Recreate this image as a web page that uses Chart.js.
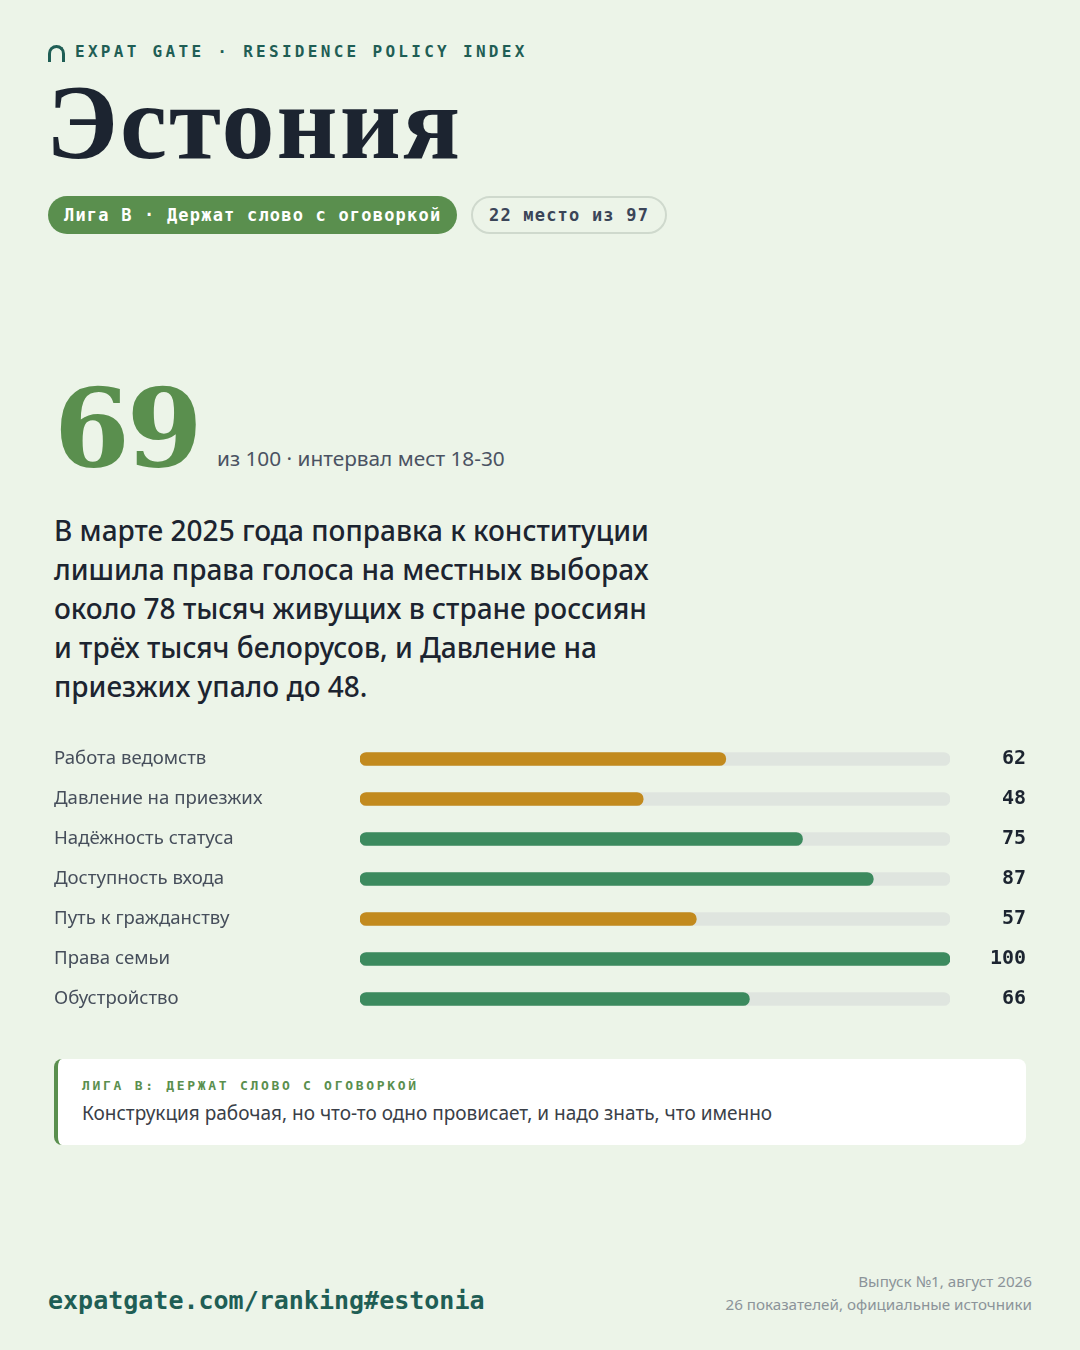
<!DOCTYPE html>
<html lang="ru">
<head>
<meta charset="utf-8">
<title>Эстония — Residence Policy Index</title>
<script src="https://cdn.jsdelivr.net/npm/chart.js@4"></script>
<style>
    html, body { margin: 0; padding: 0; }
    body {
        width: 1080px; height: 1350px; position: relative; overflow: hidden;
        background: #ecf4e8; font-family: "Noto Sans", sans-serif; color: #1c2430;
    }
    .abs { position: absolute; }
    .kicker {
        left: 48px; top: 42px; font-family: "DejaVu Sans Mono", monospace; font-weight: 700;
        font-size: 16px; letter-spacing: 3.3px; color: #1f5e55; white-space: nowrap;
    }
    .kicker .arch {
        display: inline-block; width: 11px; height: 14px; border: 3px solid #1f5e55; border-bottom: none;
        border-radius: 9px 9px 0 0; margin-right: 10px; vertical-align: -5px;
    }
    .title {
        left: 46px; top: 64px; font-family: "Liberation Serif", serif; font-weight: 700;
        font-size: 106px; line-height: 118px; color: #1c2430; letter-spacing: 2px;
    }
    .pill {
        top: 196px; height: 38px; line-height: 38px; border-radius: 19px; padding: 0 16px;
        font-family: "DejaVu Sans Mono", monospace; font-weight: 700; font-size: 17px; letter-spacing: 1.2px;
        white-space: nowrap; box-sizing: border-box;
    }
    .pill.league { left: 48px; background: #5a8f4e; color: #ffffff; }
    .pill.rank { left: 471px; border: 2px solid #cfd9cd; color: #3b4558; line-height: 34px; }
    .score {
        left: 54px; top: 366px; font-family: "DejaVu Serif", serif; font-weight: 700;
        font-size: 109px; line-height: 124px; color: #5a8f4e; letter-spacing: -3px;
    }
    .score-note { left: 217px; top: 444px; font-size: 20.8px; color: #4a5262; white-space: nowrap; }
    .lead {
        left: 54px; top: 511px; font-size: 28px; line-height: 39px; font-weight: 500; color: #1c2430;
    }
    .chart-box { left: 54px; top: 727px; width: 972px; height: 304px; }
    .callout {
        left: 54px; top: 1059px; width: 972px; height: 86px; box-sizing: border-box;
        background: #ffffff; border-left: 4px solid #5a8f4e; border-radius: 8px; padding: 18px 0 0 24px;
    }
    .callout .cap {
        font-family: "DejaVu Sans Mono", monospace; font-weight: 700; font-size: 13px;
        letter-spacing: 2.7px; color: #5a8f4e; line-height: 18px;
    }
    .callout .txt { font-size: 19px; color: #3a3f48; margin-top: 6px; line-height: 25px; }
    .url {
        left: 48px; top: 1286px; font-family: "DejaVu Sans Mono", monospace; font-weight: 700;
        font-size: 25px; color: #1f5e55; white-space: nowrap;
    }
    .meta { right: 48px; top: 1270px; text-align: right; font-size: 15.2px; line-height: 23px; color: #8b9399; }
</style>
</head>
<body>

<div class="abs kicker"><span class="arch"></span>EXPAT GATE · RESIDENCE POLICY INDEX</div>
<div class="abs title">Эстония</div>
<div class="abs pill league">Лига B · Держат слово с оговоркой</div>
<div class="abs pill rank">22 место из 97</div>

<div class="abs score">69</div>
<div class="abs score-note">из 100 · интервал мест 18-30</div>

<div class="abs lead">
    В марте 2025 года поправка к конституции<br>
    лишила права голоса на местных выборах<br>
    около 78 тысяч живущих в стране россиян<br>
    и трёх тысяч белорусов, и Давление на<br>
    приезжих упало до 48.
</div>

<div class="abs chart-box"><canvas id="scoreChart"></canvas></div>

<div class="abs callout">
    <div class="cap">ЛИГА B: ДЕРЖАТ СЛОВО С ОГОВОРКОЙ</div>
    <div class="txt">Конструкция рабочая, но что-то одно провисает, и надо знать, что именно</div>
</div>

<div class="abs url">expatgate.com/ranking#estonia</div>
<div class="abs meta">Выпуск №1, август 2026<br>26 показателей, официальные источники</div>

<script>
// Indicator names and scores (0-100)
const categories = [
    'Работа ведомств',
    'Давление на приезжих',
    'Надёжность статуса',
    'Доступность входа',
    'Путь к гражданству',
    'Права семьи',
    'Обустройство'
];
const scores = [62, 48, 75, 87, 57, 100, 66];
const scaleMax = 100;
const trackValues = categories.map(() => scaleMax);

// Weak indicators are shown in amber, strong ones in green
function barColor(value) {
    return value >= 65 ? '#3c8a5e' : '#c28a1e';
}

document.addEventListener('DOMContentLoaded', function() {
    const ctx = document.getElementById('scoreChart');

    new Chart(ctx, {
        type: 'bar',
        data: {
            labels: categories,
            datasets: [
                {
                    label: 'Оценка',
                    data: scores,
                    backgroundColor: scores.map(barColor),
                    grouped: false,
                    order: 0,
                    barThickness: 13,
                    borderRadius: 7,
                    borderSkipped: false
                },
                {
                    label: 'Шкала',
                    data: trackValues,
                    backgroundColor: '#dfe5df',
                    grouped: false,
                    order: 1,
                    barThickness: 13,
                    borderRadius: 7,
                    borderSkipped: false
                }
            ]
        },
        options: {
            indexAxis: 'y',
            responsive: true,
            maintainAspectRatio: false,
            animation: false,
            layout: { padding: 0 },
            plugins: {
                legend: { display: false },
                tooltip: { enabled: false }
            },
            scales: {
                x: {
                    min: 0,
                    max: scaleMax,
                    display: false
                },
                y: {
                    position: 'left',
                    grid: { display: false },
                    border: { display: false },
                    ticks: {
                        crossAlign: 'far',
                        padding: 0,
                        color: '#464e5b',
                        font: { family: 'Noto Sans', size: 18.6 }
                    },
                    afterFit: function(scale) { scale.width = 306; }
                },
                values: {
                    type: 'category',
                    position: 'right',
                    labels: scores.map(String),
                    grid: { display: false },
                    border: { display: false },
                    ticks: {
                        crossAlign: 'far',
                        padding: 0,
                        color: '#1c2430',
                        font: { family: 'DejaVu Sans Mono', size: 20, weight: 'bold' }
                    },
                    afterFit: function(scale) { scale.width = 76; }
                }
            }
        }
    });
});
</script>
</body>
</html>
